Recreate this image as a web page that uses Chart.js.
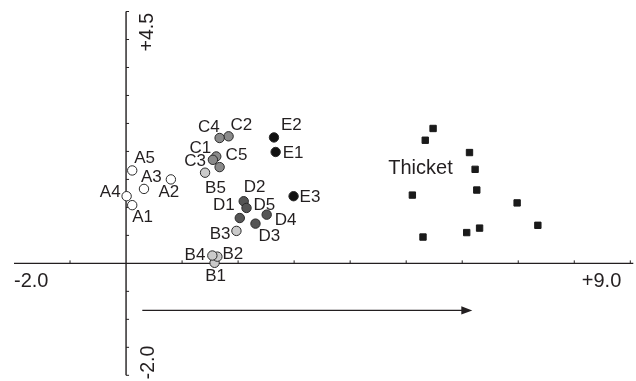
<!DOCTYPE html>
<html>
<head>
<meta charset="utf-8">
<script src="https://cdn.jsdelivr.net/npm/chart.js@4/dist/chart.umd.min.js"></script>
<style>
  html, body { margin: 0; padding: 0; background: #ffffff; }
  #wrap { width: 636px; height: 381px; }
</style>
</head>
<body>
<div id="wrap"><canvas id="c" width="636" height="381"></canvas></div>
<script>
// ---------- DATA ----------
const xRange = [-2.0, 9.0];
const yRange = [-2.0, 4.5];
const xTickLabels = ['-2.0', '+9.0'];
const yTickLabels = ['-2.0', '+4.5'];

const labelsA = ['A1', 'A2', 'A3', 'A4', 'A5'];
const xA = [0.11, 0.80, 0.32, 0.01, 0.11];
const yA = [1.04, 1.50, 1.33, 1.20, 1.66];

const labelsB = ['B1', 'B2', 'B3', 'B4', 'B5'];
const xB = [1.58, 1.63, 1.97, 1.54, 1.41];
const yB = [0.01, 0.12, 0.58, 0.14, 1.62];

const labelsC = ['C1', 'C2', 'C3', 'C4', 'C5'];
const xC = [1.61, 1.83, 1.55, 1.67, 1.67];
const yC = [1.91, 2.27, 1.85, 2.24, 1.72];

const labelsD = ['D1', 'D2', 'D3', 'D4', 'D5'];
const xD = [2.03, 2.10, 2.31, 2.51, 2.15];
const yD = [0.81, 1.11, 0.71, 0.87, 0.99];

const labelsE = ['E1', 'E2', 'E3'];
const xE = [2.67, 2.64, 2.99];
const yE = [1.99, 2.25, 1.20];

const xThicket = [5.48, 5.34, 6.13, 6.23, 6.26, 5.11, 6.98, 7.35, 6.31, 6.08, 5.30];
const yThicket = [2.41, 2.20, 1.98, 1.68, 1.31, 1.22, 1.08, 0.68, 0.63, 0.55, 0.47];
const thicketLabel = 'Thicket';
const thicketLabelAt = [4.68, 1.59];

const arrowFrom = [0.29, -0.84];
const arrowTo = [6.18, -0.84];

// ---------- STYLE / PLACEMENT ----------
const INK = '#231f20';
const FONT = '"Liberation Sans", Arial, Helvetica, sans-serif';
// label placement relative to point: [align, dx(px), dy(px)]
const labelPlace = {
  A1: ['left', 0, 12], A2: ['center', -2, 13], A3: ['left', -3, -12], A4: ['right', -6, -4], A5: ['left', 2, -12],
  B1: ['center', 1, 14], B2: ['left', 5, -2], B3: ['right', -6, 3], B4: ['right', -7, 0], B5: ['left', 0, 16],
  C1: ['right', -5, -8], C2: ['left', 2, -11], C3: ['right', -7, 1], C4: ['right', 0, -11], C5: ['left', 6, -12],
  D1: ['right', -5, -13], D2: ['left', 0, -14], D3: ['left', 3, 13], D4: ['left', 8, 6], D5: ['left', 7, -3],
  E1: ['left', 7, 1], E2: ['left', 7, -12], E3: ['left', 6, 1]
};

function pts(xs, ys, labs) {
  return xs.map((v, i) => ({ x: v, y: ys[i], label: labs ? labs[i] : null }));
}
function circleSet(xs, ys, labs, fill) {
  return {
    data: pts(xs, ys, labs),
    pointStyle: 'circle',
    pointRadius: 4.7,
    pointBorderWidth: 1,
    pointBackgroundColor: fill,
    pointBorderColor: '#2a2a2a',
    showLine: false
  };
}

const datasets = [
  circleSet(xA, yA, labelsA, '#ffffff'),
  circleSet(xC, yC, labelsC, '#8a8a8a'),
  circleSet(xD, yD, labelsD, '#555555'),
  circleSet(xE, yE, labelsE, '#111111'),
  circleSet(xB, yB, labelsB, '#cacaca'),
  {
    data: pts(xThicket, yThicket, null),
    pointStyle: 'rect',
    pointRadius: 4.5,
    pointBorderWidth: 1,
    pointBackgroundColor: '#1a1a1a',
    pointBorderColor: '#1a1a1a',
    showLine: false
  }
];

const crossAxes = {
  id: 'crossAxes',
  beforeDatasetsDraw(chart) {
    const { ctx } = chart;
    const sx = chart.scales.x, sy = chart.scales.y;
    const x0 = sx.getPixelForValue(0), y0 = sy.getPixelForValue(0);
    const xl = sx.getPixelForValue(xRange[0]), xr = sx.getPixelForValue(xRange[1]);
    const yt = sy.getPixelForValue(yRange[1]), yb = sy.getPixelForValue(yRange[0]);
    ctx.save();
    ctx.strokeStyle = INK;
    ctx.lineWidth = 1.4;
    ctx.beginPath();
    ctx.moveTo(xl, y0); ctx.lineTo(xr + 3, y0);
    ctx.moveTo(x0, yt); ctx.lineTo(x0, yb);
    ctx.stroke();
    ctx.lineWidth = 1;
    ctx.beginPath();
    for (let v = Math.ceil(xRange[0]) + 1; v <= xRange[1]; v += 1) {
      if (v === 0) continue;
      const p = sx.getPixelForValue(v);
      ctx.moveTo(p, y0); ctx.lineTo(p, y0 - 3);
    }
    for (let v = yRange[0]; v <= yRange[1] + 1e-9; v += 0.5) {
      if (Math.abs(v) < 1e-9) continue;
      const p = sy.getPixelForValue(v);
      ctx.moveTo(x0, p); ctx.lineTo(x0 + 3, p);
    }
    ctx.stroke();

    // tick labels
    ctx.fillStyle = INK;
    ctx.font = '20px ' + FONT;
    ctx.textBaseline = 'alphabetic';
    ctx.textAlign = 'left';
    ctx.fillText(xTickLabels[0], xl, y0 + 24);
    ctx.textAlign = 'right';
    ctx.fillText(xTickLabels[1], xr - 9, y0 + 24);

    ctx.font = '19.5px ' + FONT;
    ctx.save();
    ctx.translate(x0 + 27, yt + 1.5);
    ctx.rotate(-Math.PI / 2);
    ctx.textAlign = 'right';
    ctx.fillText(yTickLabels[1], 0, 0);
    ctx.restore();
    ctx.save();
    ctx.translate(x0 + 28, yb + 4);
    ctx.rotate(-Math.PI / 2);
    ctx.textAlign = 'left';
    ctx.fillText(yTickLabels[0], 0, 0);
    ctx.restore();

    // arrow
    const ax0 = sx.getPixelForValue(arrowFrom[0]), ay = sy.getPixelForValue(arrowFrom[1]);
    const ax1 = sx.getPixelForValue(arrowTo[0]);
    ctx.lineWidth = 1.4;
    ctx.beginPath();
    ctx.moveTo(ax0, ay); ctx.lineTo(ax1 - 8, ay);
    ctx.stroke();
    ctx.beginPath();
    ctx.moveTo(ax1, ay); ctx.lineTo(ax1 - 11, ay - 4.2); ctx.lineTo(ax1 - 11, ay + 4.2);
    ctx.closePath();
    ctx.fill();
    ctx.restore();
  },
  afterDatasetsDraw(chart) {
    const { ctx } = chart;
    const sx = chart.scales.x, sy = chart.scales.y;
    ctx.save();
    ctx.fillStyle = INK;
    ctx.font = '17px ' + FONT;
    ctx.textBaseline = 'middle';
    chart.data.datasets.forEach(ds => {
      ds.data.forEach(p => {
        if (!p.label) return;
        const pl = labelPlace[p.label] || ['left', 6, 0];
        ctx.textAlign = pl[0];
        ctx.fillText(p.label, sx.getPixelForValue(p.x) + pl[1], sy.getPixelForValue(p.y) + pl[2]);
      });
    });
    ctx.font = '20px ' + FONT;
    ctx.textAlign = 'left';
    ctx.textBaseline = 'alphabetic';
    ctx.fillText(thicketLabel, sx.getPixelForValue(thicketLabelAt[0]), sy.getPixelForValue(thicketLabelAt[1]));
    ctx.restore();
  }
};

new Chart(document.getElementById('c'), {
  type: 'scatter',
  data: { datasets },
  options: {
    responsive: false,
    animation: false,
    events: [],
    layout: { padding: { left: 14, right: 2, top: 11.5, bottom: 3 } },
    plugins: { legend: { display: false }, tooltip: { enabled: false } },
    scales: {
      x: { type: 'linear', min: xRange[0], max: xRange[1], display: false },
      y: { type: 'linear', min: yRange[0], max: yRange[1], display: false }
    }
  },
  plugins: [crossAxes]
});
</script>
</body>
</html>
